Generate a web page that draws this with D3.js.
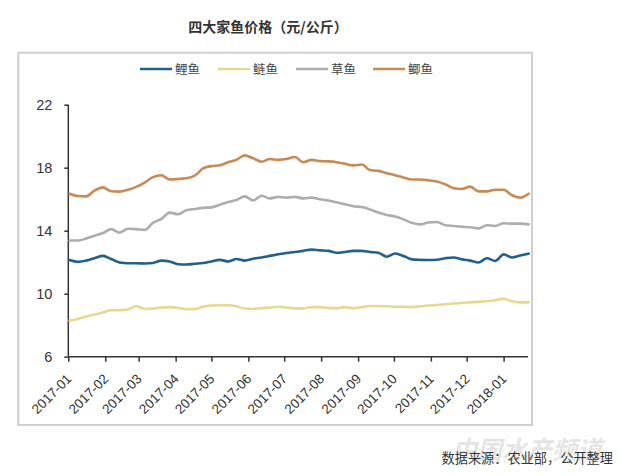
<!DOCTYPE html>
<html><head><meta charset="utf-8">
<script src="https://cdn.jsdelivr.net/npm/d3@7/dist/d3.min.js"></script>
<style>body{margin:0;background:#fff}svg{display:block}</style>
</head><body>
<svg id="c" width="622" height="476"></svg>
<script>
const title = "四大家鱼价格（元/公斤）";
const seriesNames = ["鲤鱼","鲢鱼","草鱼","鲫鱼"];
const seriesColors = ["#23608a","#e6d98f","#adadad","#c78a55"];
const startDate = "2017-01-02"; // weekly observations
const carp = [12.14,12.02,12.1,12.25,12.4,12.2,11.98,11.93,11.93,11.92,11.95,12.1,12.05,11.87,11.85,11.9,11.95,12.05,12.15,12.05,12.2,12.1,12.22,12.3,12.4,12.5,12.58,12.65,12.72,12.8,12.75,12.72,12.6,12.65,12.72,12.72,12.65,12.6,12.35,12.55,12.4,12.18,12.15,12.14,12.16,12.25,12.3,12.18,12.1,11.98,12.25,12.08,12.5,12.3,12.42,12.54];
const silver = [8.3,8.4,8.55,8.68,8.8,8.95,8.95,9.0,9.22,9.03,9.05,9.12,9.15,9.1,9.02,9.02,9.18,9.25,9.27,9.27,9.2,9.05,9.03,9.08,9.12,9.17,9.12,9.07,9.07,9.15,9.15,9.1,9.08,9.15,9.08,9.15,9.22,9.22,9.2,9.17,9.17,9.15,9.2,9.25,9.28,9.33,9.38,9.42,9.45,9.48,9.52,9.58,9.68,9.52,9.45,9.45];
const grass = [13.38,13.38,13.5,13.68,13.85,14.1,13.88,14.12,14.1,14.05,14.5,14.75,15.15,15.05,15.3,15.38,15.45,15.48,15.65,15.82,15.95,16.18,15.92,16.22,16.05,16.15,16.1,16.15,16.05,16.1,16.0,15.92,15.8,15.68,15.55,15.5,15.35,15.15,15.0,14.9,14.72,14.5,14.4,14.52,14.55,14.35,14.3,14.25,14.22,14.15,14.35,14.3,14.47,14.45,14.45,14.4];
const crucian = [16.35,16.2,16.18,16.55,16.75,16.5,16.48,16.6,16.78,17.05,17.4,17.52,17.25,17.28,17.33,17.5,17.95,18.1,18.15,18.35,18.5,18.78,18.6,18.38,18.55,18.5,18.55,18.68,18.35,18.5,18.42,18.4,18.35,18.25,18.15,18.2,17.85,17.8,17.65,17.52,17.38,17.25,17.25,17.2,17.12,16.95,16.7,16.65,16.8,16.5,16.5,16.6,16.6,16.25,16.1,16.35];
const yTicks = [6,10,14,18,22];
const xTickLabels = ["2017-01","2017-02","2017-03","2017-04","2017-05","2017-06","2017-07","2017-08","2017-09","2017-10","2017-11","2017-12","2018-01"];
const sourceText = "数据来源：农业部，公开整理";
const watermark = "中国水产频道";

const svg = d3.select("#c");
const parse = d3.timeParse("%Y-%m-%d");
const t0 = parse(startDate);
const dates = carp.map((_, i) => d3.timeDay.offset(t0, 7 * i));
const all = [carp, silver, grass, crucian];

const x = d3.scaleTime().domain([parse("2017-01-01"), parse("2018-01-01")]).range([68.3, 503.6]);
const y = d3.scaleLinear().domain([6, 22]).range([356.7, 104.7]);

// frame
svg.append("rect").attr("x",18.3).attr("y",52.7).attr("width",513.7).attr("height",372.3)
  .attr("fill","none").attr("stroke","#cfcfcf").attr("stroke-width",2);

// title
svg.append("text").attr("x",268).attr("y",32).attr("text-anchor","middle")
  .attr("font-family","'Noto Sans CJK SC', sans-serif").attr("font-weight","bold")
  .attr("font-size",14).attr("fill","#333").text(title);

// legend
const legX = [140, 218, 296, 373];
seriesNames.forEach((n, i) => {
  const g = svg.append("g");
  g.append("line").attr("x1",legX[i]).attr("x2",legX[i]+32).attr("y1",69).attr("y2",69)
    .attr("stroke",seriesColors[i]).attr("stroke-width",2.5);
  g.append("text").attr("x",legX[i]+35).attr("y",73.5)
    .attr("font-family","'Noto Sans CJK SC', sans-serif").attr("font-size",12.5)
    .attr("fill","#444").text(n);
});

// y axis
const yAxis = d3.axisLeft(y).tickValues(yTicks).tickSize(4).tickPadding(12).tickFormat(d3.format("d"));
const gy = svg.append("g").attr("transform","translate(68.3,0)").call(yAxis);
gy.select(".domain").attr("stroke","#333").attr("stroke-width",1.5).attr("d","M0,104.7V356.7");
gy.selectAll(".tick line").attr("stroke","#333").attr("stroke-width",1.5);
gy.selectAll("text").attr("font-family","'Liberation Sans', Arial, sans-serif").attr("font-size",14.5).attr("fill","#333");

// x axis
const tickDates = xTickLabels.map(s => parse(s + "-01"));
const xAxis = d3.axisBottom(x).tickValues(tickDates).tickSize(5).tickFormat((d, i) => xTickLabels[i]);
const gx = svg.append("g").attr("transform","translate(0,356.7)").call(xAxis);
gx.select(".domain").attr("stroke","#333").attr("stroke-width",1.5).attr("d","M68.3,0H528");
gx.selectAll(".tick line").attr("stroke","#333").attr("stroke-width",1.5);
gx.selectAll("text").attr("font-family","'Liberation Sans', Arial, sans-serif").attr("font-size",13.5)
  .attr("fill","#333").attr("text-anchor","end").attr("dy",0)
  .attr("transform","translate(3.5,23) rotate(-45)").attr("x",0).attr("y",0);

// lines
const line = d3.line().x((d, i) => x(dates[i])).y(d => y(d)).curve(d3.curveMonotoneX);
all.forEach((s, i) => {
  svg.append("path").datum(s).attr("d", line).attr("fill","none")
    .attr("stroke",seriesColors[i]).attr("stroke-width",2.6)
    .attr("stroke-linejoin","round").attr("stroke-linecap","round");
});

// watermark + source
svg.append("text").attr("x",452).attr("y",459)
  .attr("font-family","'Noto Sans CJK SC', sans-serif").attr("font-size",25).attr("font-weight","bold")
  .attr("font-style","italic").attr("fill","#dcdcdc").attr("fill-opacity",0.75).text(watermark);
svg.append("text").attr("x",613).attr("y",463).attr("text-anchor","end")
  .attr("font-family","'Noto Sans CJK SC', sans-serif").attr("font-size",13.2)
  .attr("fill","#333").text(sourceText);
</script>
</body></html>
